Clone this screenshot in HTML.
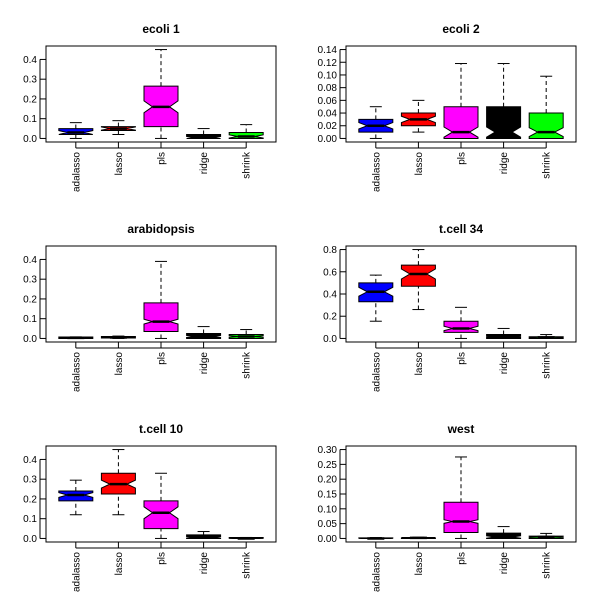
<!DOCTYPE html>
<html><head><meta charset="utf-8"><style>
html,body{margin:0;padding:0;background:#fff;}
svg{display:block;font-family:"Liberation Sans",Arial,sans-serif;}
</style></head><body>
<svg id="c" width="600" height="600" viewBox="0 0 600 600"></svg>
<script>
const categories = ["adalasso","lasso","pls","ridge","shrink"];
const colors = ["#0000ff","#ff0000","#ff00ff","#000000","#00ff00"];
const titles = ["ecoli 1","ecoli 2","arabidopsis","t.cell 34","t.cell 10","west"];
// each box: [min, q1, median, q3, max, notchHalf]
const ecoli1 = [[0,.02,.03,.05,.08,.01],[.02,.04,.05,.06,.09,.008],[0,.06,.16,.265,.45,.03],[0,0,.005,.02,.05,.005],[0,0,.01,.03,.07,.008]];
const ecoli2 = [[0,.01,.02,.03,.05,.005],[.01,.02,.03,.04,.06,.005],[0,0,.01,.05,.118,.008],[0,0,.01,.05,.118,.008],[0,0,.01,.04,.098,.007]];
const arabidopsis = [[0,0,.003,.007,.008,.002],[0,.002,.005,.01,.012,.002],[0,.035,.085,.18,.39,.012],[0,0,.01,.025,.06,.005],[0,0,.01,.02,.045,.004]];
const tcell34 = [[.155,.33,.42,.5,.57,.04],[.26,.47,.58,.66,.8,.045],[0,.055,.09,.155,.28,.02],[0,0,.015,.035,.09,.005],[0,0,.01,.015,.035,.004]];
const tcell10 = [[.12,.19,.22,.24,.295,.012],[.12,.225,.275,.33,.45,.02],[0,.05,.13,.19,.33,.03],[0,0,.005,.018,.035,.004],[0,0,0,.005,.005,.001]];
const west = [[0,0,0,.002,.003,.001],[0,0,.002,.003,.004,.001],[0,.02,.057,.122,.275,.006],[0,0,.005,.018,.04,.004],[0,0,.005,.008,.017,.002]];
const panels = [ecoli1,ecoli2,arabidopsis,tcell34,tcell10,west];
// overall value range of each panel (includes undrawn extremes)
const rangeMin = [0,0,0,0,0,0];
const rangeMax = [0.45,0.14,0.45,0.8,0.45,0.30];
const ticks1 = [0,0.1,0.2,0.3,0.4];
const ticks2 = [0,0.02,0.04,0.06,0.08,0.10,0.12,0.14];
const ticks4 = [0,0.2,0.4,0.6,0.8];
const ticks6 = [0,0.05,0.10,0.15,0.20,0.25,0.30];
const tickSets = [ticks1,ticks2,ticks1,ticks4,ticks1,ticks6];
const tickDigits = [1,2,1,1,1,2];

const svg = document.getElementById('c');
const NS = 'http://www.w3.org/2000/svg';
function mk(tag, attrs, parent){const e=document.createElementNS(NS,tag);for(const k in attrs)e.setAttribute(k,attrs[k]);(parent||svg).appendChild(e);return e;}

panels.forEach((data,p)=>{
  const ox = (p%2)*300, oy = Math.floor(p/2)*200;
  const g = mk('g',{});
  
  
  const L=ox+46,R=ox+276,T=oy+46,B=oy+142;
  let mn=rangeMin[p],mx=rangeMax[p];
  data.forEach(d=>{mn=Math.min(mn,d[0]);mx=Math.max(mx,d[4]);});
  const span=mx-mn, y0=mn-0.04*span, y1=mx+0.04*span;
  const y=v=>B-(v-y0)/(y1-y0)*(B-T);
  // x domain [0.5,5.5] padded 4% -> [0.3,5.7]
  const x=i=>L+((i+1)-0.3)/5.4*(R-L);
  const t=mk('text',{x:ox+161,y:oy+33,'text-anchor':'middle','font-size':12,'font-weight':'bold'},g);
  t.textContent=titles[p];
  
  
  const ya=mk('g',{},g);
  
  
  const tk=tickSets[p];
  mk('line',{x1:L-6,x2:L-6,y1:y(tk[0]),y2:y(tk[tk.length-1]),stroke:'#000'},ya);
  tk.forEach(v=>{
    mk('line',{x1:L-6,x2:L,y1:y(v),y2:y(v),stroke:'#000'},ya);
    const tl=mk('text',{x:L-9,y:y(v)+3.5,'text-anchor':'end','font-size':10},ya);
    tl.textContent=v.toFixed(tickDigits[p]);
    
    
  });
  const xa=mk('g',{},g);
  
  
  mk('line',{x1:x(0),x2:x(4),y1:B+6,y2:B+6,stroke:'#000'},xa);
  categories.forEach((c,i)=>{
    mk('line',{x1:x(i),x2:x(i),y1:B,y2:B+6,stroke:'#000'},xa);
    const cl=mk('text',{transform:`translate(${x(i)+3.5},${B+10}) rotate(-90)`,'text-anchor':'end','font-size':10},xa);
    cl.textContent=c;
    
    
  });
  data.forEach((d,i)=>{
    const bg=mk('g',{},g);
    
    
    const cx=x(i), hw=17, nw=8.5;
    mk('line',{x1:cx,x2:cx,y1:y(d[0]),y2:y(d[1]),stroke:'#000','stroke-dasharray':'4,3'},bg);
    mk('line',{x1:cx,x2:cx,y1:y(d[3]),y2:y(d[4]),stroke:'#000','stroke-dasharray':'4,3'},bg);
    mk('line',{x1:cx-6,x2:cx+6,y1:y(d[0]),y2:y(d[0]),stroke:'#000'},bg);
    mk('line',{x1:cx-6,x2:cx+6,y1:y(d[4]),y2:y(d[4]),stroke:'#000'},bg);
    const nl=Math.max(d[1],d[2]-d[5]), nh=Math.min(d[3],d[2]+d[5]);
    const pts=[[cx-hw,y(d[1])],[cx-hw,y(nl)],[cx-nw,y(d[2])],[cx-hw,y(nh)],[cx-hw,y(d[3])],
      [cx+hw,y(d[3])],[cx+hw,y(nh)],[cx+nw,y(d[2])],[cx+hw,y(nl)],[cx+hw,y(d[1])]];
    mk('polygon',{points:pts.map(q=>q.join(',')).join(' '),fill:colors[i],stroke:'#000','stroke-width':1},bg);
    mk('line',{x1:cx-nw,x2:cx+nw,y1:y(d[2]),y2:y(d[2]),stroke:'#000','stroke-width':2.5},bg);
  });
  const fr=mk('rect',{x:L,y:T,width:R-L,height:B-T,fill:'none',stroke:'#000'},g);
  
  
});
</script>
</body></html>
